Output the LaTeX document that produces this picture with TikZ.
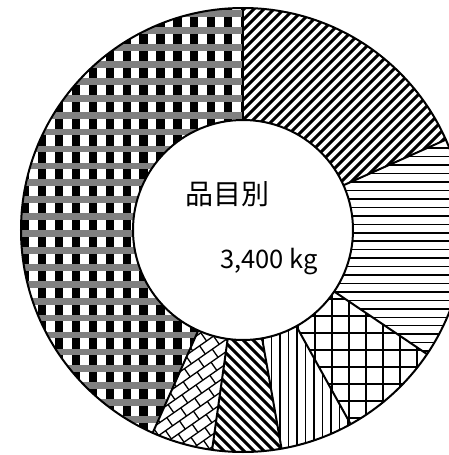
\documentclass[tikz,border=0pt]{standalone}
\usepackage{fontspec}
\newfontfamily\jpfont{Noto Sans CJK JP}
\begin{document}
\begin{tikzpicture}[x=1pt,y=1pt,
  rim/.style={black,line width=2pt},
  hatch/.style={black,line width=#1},
  hatch/.default=1.5pt,
  label/.style={inner sep=0pt,anchor=base}]
\useasboundingbox (-243,-225) rectangle (206,230);
\def\Ro{222}
\def\Ri{110}
% diagonal lines, 90 to 24
\begin{scope}
\clip (90:\Ro) arc[start angle=90,end angle=24,radius=\Ro] -- (24:\Ri) arc[start angle=24,end angle=90,radius=\Ri] -- cycle;
\foreach \k in {-30,...,25} \draw [hatch=3pt] (\k*10-250,-250) -- (\k*10+250,250);
\end{scope}
% horizontal lines, 24 to -34
\begin{scope}
\clip (24:\Ro) arc[start angle=24,end angle=-34,radius=\Ro] -- (-34:\Ri) arc[start angle=-34,end angle=24,radius=\Ri] -- cycle;
\foreach \k in {-16,...,12} \draw [hatch] (0,\k*8.45+5.7) -- (250,\k*8.45+5.7);
\end{scope}
% grid, -34 to -61
\begin{scope}
\clip (-34:\Ro) arc[start angle=-34,end angle=-61,radius=\Ro] -- (-61:\Ri) arc[start angle=-61,end angle=-34,radius=\Ri] -- cycle;
\foreach \k in {-3,...,8} {
  \draw [hatch=2pt] (\k*17+72,-250) -- (\k*17+72,0);
  \draw [hatch=2pt] (0,-86-\k*17) -- (250,-86-\k*17);
}
\end{scope}
% vertical lines, -61 to -80
\begin{scope}
\clip (-61:\Ro) arc[start angle=-61,end angle=-80,radius=\Ro] -- (-80:\Ri) arc[start angle=-80,end angle=-61,radius=\Ri] -- cycle;
\foreach \k in {-4,...,14} \draw [hatch] (\k*8.45+28.7,-250) -- (\k*8.45+28.7,0);
\end{scope}
% back diagonal lines, -80 to -98
\begin{scope}
\clip (-80:\Ro) arc[start angle=-80,end angle=-98,radius=\Ro] -- (-98:\Ri) arc[start angle=-98,end angle=-80,radius=\Ri] -- cycle;
\foreach \k in {-35,...,0} \draw [hatch=3pt] (\k*10-250,250) -- (\k*10+250,-250);
\end{scope}
% bricks, -98 to -114
\begin{scope}
\clip (-98:\Ro) arc[start angle=-98,end angle=-114,radius=\Ro] -- (-114:\Ri) arc[start angle=-114,end angle=-98,radius=\Ri] -- cycle;
\begin{scope}[rotate=35]
\foreach \j in {-32,...,8} {
  \draw [hatch=1.3pt] (-300,\j*10) -- (100,\j*10);
  \foreach \i in {-18,...,6}
    \draw [hatch=1.3pt] ({\i*17+8.5*mod(abs(\j),2)},\j*10) -- ({\i*17+8.5*mod(abs(\j),2)},\j*10+10);
}
\end{scope}
\end{scope}
% checks, -114 to 90
\begin{scope}
\clip (90:\Ro) arc[start angle=90,end angle=246,radius=\Ro] -- (246:\Ri) arc[start angle=246,end angle=90,radius=\Ri] -- cycle;
\foreach \k in {-3,...,11} \fill [black] (\k*16.9-188,-250) rectangle (\k*16.9-179.7,250);
\foreach \k in {-14,...,13} \fill [black!50] (-250,\k*16.9+10) rectangle (0,\k*16.9+16.7);
\end{scope}
% rims
\foreach \a in {90,24,-34,-61,-80,-98,-114} \draw [rim] (\a:\Ri) -- (\a:\Ro);
\draw [rim] (0,0) circle (\Ro);
\draw [rim] (0,0) circle (\Ri);
\node [label,font=\jpfont\fontsize{28}{28}\selectfont] (title) at (-15,25) {品目別};
\node [label,font=\jpfont\fontsize{25.5}{25.5}\selectfont] (total) at (26,-38) {3,400 kg};
\end{tikzpicture}
\end{document}
